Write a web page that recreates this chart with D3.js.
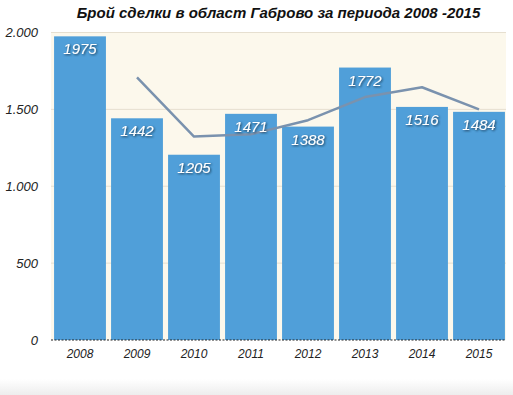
<!DOCTYPE html>
<html><head><meta charset="utf-8">
<script src="https://cdn.jsdelivr.net/npm/d3@7"></script>
<style>
html,body{margin:0;padding:0;background:#fff;}
svg{display:block;}
text{font-family:"Liberation Sans",Arial,Helvetica,sans-serif;}
</style></head>
<body>
<script>
const years = ["2008","2009","2010","2011","2012","2013","2014","2015"];
const deals = [1975,1442,1205,1471,1388,1772,1516,1484];
const trendYears = ["2009","2010","2011","2012","2013","2014","2015"];
const trendValues = [1708.5,1323.5,1338,1429.5,1580,1644,1500];
const yTicks = [0,500,1000,1500,2000];
const yTickLabels = ["0","500","1.000","1.500","2.000"];
const title = "Брой сделки в област Габрово за периода 2008 -2015";

const W = 513, H = 395;
const svg = d3.select("body").append("svg").attr("width", W).attr("height", H);

const defs = svg.append("defs");
const g1 = defs.append("linearGradient").attr("id","bottomGrad").attr("x1",0).attr("y1",0).attr("x2",0).attr("y2",1);
g1.append("stop").attr("offset","0%").attr("stop-color","#ffffff");
g1.append("stop").attr("offset","100%").attr("stop-color","#ededed");
const sh = defs.append("filter").attr("id","tshadow").attr("x","-20%").attr("y","-30%").attr("width","140%").attr("height","160%");
sh.append("feDropShadow").attr("dx",1).attr("dy",1).attr("stdDeviation",0.9).attr("flood-color","#16344f").attr("flood-opacity",0.95);

svg.append("rect").attr("x",0).attr("y",379).attr("width",W).attr("height",16).attr("fill","url(#bottomGrad)");

const x = d3.scaleBand().domain(years).range([51.5, 507.5]).paddingInner(0.09).paddingOuter(0.045);
const y = d3.scaleLinear().domain([0, 2000]).range([340, 32.5]);

const plotL = 51, plotR = 506;
svg.append("rect").attr("x",plotL).attr("y",y(2000)).attr("width",plotR-plotL).attr("height",y(0)-y(2000)).attr("fill","#fcf8ec");

// gridlines
svg.append("g").selectAll("line").data(yTicks.filter(d=>d>0)).join("line")
  .attr("x1",plotL).attr("x2",plotR).attr("y1",d=>y(d)).attr("y2",d=>y(d))
  .attr("stroke","#e6dfd0").attr("stroke-width",1);

// y axis labels
const yAxis = d3.axisLeft(y).tickValues(yTicks).tickFormat((d,i)=>yTickLabels[i]).tickSize(0).tickPadding(0);
const ya = svg.append("g").attr("transform","translate(38,0)").call(yAxis);
ya.select(".domain").remove();
ya.selectAll("text").attr("font-size",13).attr("font-style","italic").attr("fill","#222").attr("dy","0.32em");

// bars
svg.append("g").selectAll("rect").data(deals).join("rect")
  .attr("x",(d,i)=>x(years[i])).attr("width",x.bandwidth())
  .attr("y",d=>y(d)).attr("height",d=>y(0)-y(d))
  .attr("fill","#509fd9");

// zero line
svg.append("line").attr("x1",plotL).attr("x2",plotR).attr("y1",y(0)).attr("y2",y(0))
  .attr("stroke","#222").attr("stroke-width",1).attr("stroke-dasharray","2,1.5");

// trend line
const line = d3.line().x((d,i)=>x(trendYears[i])+x.bandwidth()/2).y(d=>y(d));
svg.append("path").datum(trendValues).attr("d",line).attr("fill","none")
  .attr("stroke","#7a92ae").attr("stroke-width",2.5).attr("stroke-linejoin","round");

// value labels
svg.append("g").selectAll("text").data(deals).join("text")
  .attr("x",(d,i)=>x(years[i])+x.bandwidth()/2).attr("y",d=>y(d)+18)
  .attr("text-anchor","middle").attr("font-size",15).attr("font-style","italic")
  .attr("fill","#fff").attr("filter","url(#tshadow)").text(d=>d);

// x axis
const xAxis = d3.axisBottom(x).tickSize(0).tickPadding(0);
const xa = svg.append("g").attr("transform","translate(0,"+(y(0)+18)+")").call(xAxis);
xa.select(".domain").remove();
xa.selectAll("text").attr("font-size",12).attr("font-style","italic").attr("fill","#222").attr("dy",0);

// title
svg.append("text").attr("x",278.5).attr("y",18).attr("text-anchor","middle")
  .attr("font-size",15).attr("font-weight","bold").attr("font-style","italic").attr("fill","#111").text(title);
</script>
</body></html>
